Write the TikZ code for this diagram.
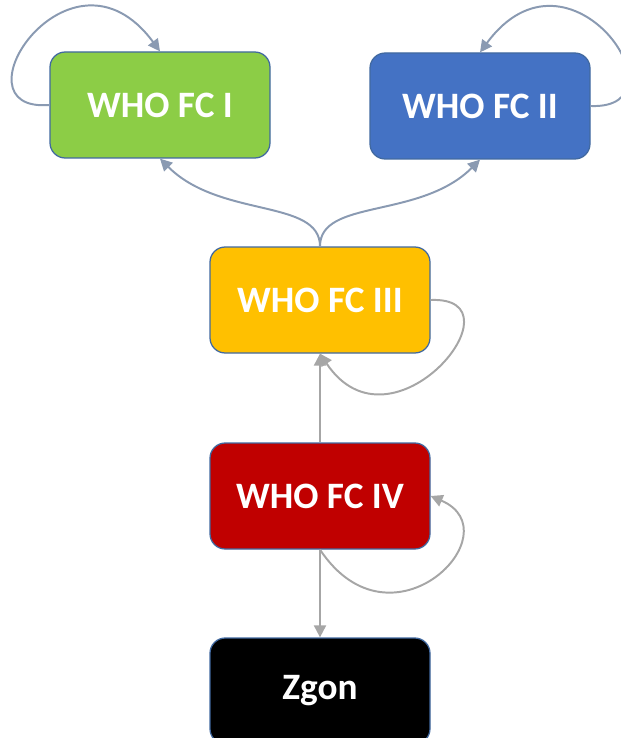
\documentclass[tikz,border=0pt]{standalone}
\usepackage{fontspec}
\setsansfont{Carlito}
\usetikzlibrary{arrows.meta, positioning}
\definecolor{fcgreen}{RGB}{140,205,70}
\definecolor{fcblue}{RGB}{68,114,196}
\definecolor{fcyellow}{RGB}{255,192,0}
\definecolor{fcred}{RGB}{192,0,0}
\definecolor{framecolor}{RGB}{65,105,160}
\definecolor{linkgray}{RGB}{166,166,166}
\definecolor{linkblue}{RGB}{138,154,178}

\begin{document}
\begin{tikzpicture}[
    every node/.style={font=\sffamily\bfseries\fontsize{26.5}{30}\selectfont},
    state/.style={draw=framecolor, line width=0.9pt, rounded corners=0.38cm, minimum width=5.5cm, minimum height=2.65cm, fill=#1, text=white, align=center},
    link/.style={-{Triangle[length=3mm, width=3mm]}, line width=1.4pt, draw=#1},
]
\useasboundingbox (0,0) rectangle (15.5,-18.45);

%% States
\node[state=fcgreen] (fc1) at (4, -2.625) {WHO FC I};
\node[state=fcblue] (fc2) at (12, -2.65) {WHO FC II};
\node[state=fcyellow] (fc3) at (8, -7.5) {WHO FC III};
\node[state=fcred] (fc4) at (8, -12.4) {WHO FC IV};
\node[state=black] (zgon) at (8, -17.275) {Zgon};

%% Self loops
\draw[link=linkblue] (fc1.west) .. controls +(-2.5,-0.2) and +(-2.25,3.05) .. (fc1.north);
\draw[link=linkblue] (fc2.east) .. controls +(2.5,-0.1) and +(2.25,3.05) .. (fc2.north);
\draw[link=linkgray] (fc3.east) .. controls +(2.4,0.1) and +(1.8,-2.7) .. (fc3.south);
\draw[link=linkgray] (fc4.south) .. controls +(1.8,-2.7) and +(2.1,-0.9) .. (fc4.east);

%% Transitions
\draw[link=linkblue] (fc3.north) .. controls +(0,1.2) and +(1.5,-1.5) .. (fc1.south);
\draw[link=linkblue] (fc3.north) .. controls +(0,1.2) and +(-1.5,-1.5) .. (fc2.south);
\draw[link=linkgray] (fc4.north) -- (fc3.south);
\draw[link=linkgray] (fc4.south) -- (zgon.north);

\end{tikzpicture}
\end{document}
